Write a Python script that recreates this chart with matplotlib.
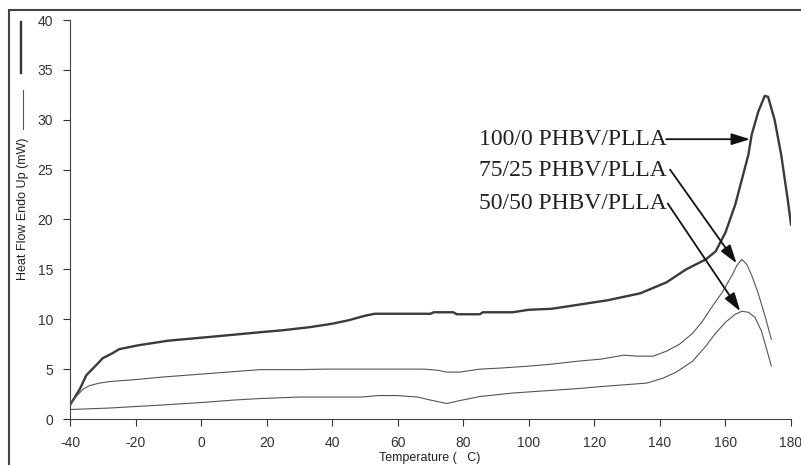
import matplotlib
matplotlib.use("Agg")
import matplotlib.pyplot as plt
from matplotlib import font_manager
from matplotlib.lines import Line2D
from matplotlib.patches import Rectangle

# DSC heating curves
temp_100 = [-40, -37, -35, -32, -30, -27, -25, -22, -19, -15, -10, -5, 0, 5, 10, 18, 25, 33,
            40, 45, 50, 53, 60, 70, 71, 77, 78, 85, 86, 95, 100, 107, 115, 124, 134, 142,
            148, 154, 157, 160, 163, 165, 167, 168, 170, 172, 173, 175, 177, 179, 180]
flow_100 = [1.4, 3.0, 4.4, 5.4, 6.1, 6.6, 7.0, 7.2, 7.4, 7.6, 7.85, 8.0, 8.15, 8.3, 8.45, 8.7,
            8.9, 9.2, 9.55, 9.9, 10.35, 10.55, 10.55, 10.55, 10.7, 10.7, 10.5, 10.5, 10.7,
            10.7, 10.95, 11.05, 11.45, 11.9, 12.6, 13.7, 15.0, 16.0, 16.8, 18.7, 21.5, 24.0,
            26.5, 28.5, 30.8, 32.4, 32.3, 30.0, 26.5, 22.0, 19.5]

temp_75 = [-40, -38, -36, -34, -31, -28, -20, -12, 0, 10, 18, 30, 38, 68, 72, 75, 79, 85, 91,
           100, 107, 115, 122, 129, 133, 138, 142, 146, 150, 153, 156, 159, 162, 163.5, 165,
           166.5, 168, 170, 172, 174]
flow_75 = [1.4, 2.3, 3.0, 3.35, 3.6, 3.75, 3.95, 4.2, 4.5, 4.75, 4.95, 4.95, 5.0, 5.0, 4.9,
           4.7, 4.7, 5.0, 5.1, 5.3, 5.5, 5.8, 6.0, 6.4, 6.3, 6.3, 6.8, 7.5, 8.6, 9.8, 11.3,
           12.7, 14.4, 15.4, 16.0, 15.5, 14.4, 12.6, 10.4, 8.0]

temp_50 = [-40, -28, -20, -12, 0, 10, 18, 30, 49, 54, 60, 66, 70, 75, 79, 85, 95, 106, 115,
           122, 130, 136, 141, 145, 150, 154, 157, 160, 163, 165, 167, 169, 171, 173, 174]
flow_50 = [0.95, 1.1, 1.25, 1.4, 1.65, 1.9, 2.05, 2.2, 2.2, 2.35, 2.35, 2.2, 1.9, 1.55, 1.85,
           2.25, 2.6, 2.85, 3.05, 3.25, 3.45, 3.6, 4.1, 4.7, 5.8, 7.3, 8.6, 9.7, 10.5, 10.8,
           10.7, 10.2, 8.8, 6.5, 5.3]

labels = ["100/0 PHBV/PLLA", "75/25 PHBV/PLLA", "50/50 PHBV/PLLA"]
label_pos = [(84.8, 27.5), (84.8, 24.4), (84.8, 21.1)]
arrow_from = [(141.9, 28.05), (143.1, 25.0), (142.4, 21.6)]
arrow_to = [(167.5, 28.05), (163.4, 15.6), (164.5, 10.8)]

x_ticks = list(range(-40, 181, 20))
y_ticks = list(range(0, 41, 5))

names = {f.name for f in font_manager.fontManager.ttflist}
sans = "Liberation Sans Narrow" if "Liberation Sans Narrow" in names else "Liberation Sans"
plt.rcParams["font.family"] = [sans, "DejaVu Sans"]
plt.rcParams["axes.unicode_minus"] = False

W, H = 801, 465
fig = plt.figure(figsize=(W / 100, H / 100), dpi=100)
ax = fig.add_axes([70 / W, 1 - 419 / H, (791 - 70) / W, (419 - 20) / H])

ax.plot(temp_100, flow_100, color="#3a3a3a", lw=1.7)
ax.plot(temp_75, flow_75, color="#555555", lw=0.8)
ax.plot(temp_50, flow_50, color="#555555", lw=0.8)

for txt, pos, a, b in zip(labels, label_pos, arrow_from, arrow_to):
    ax.text(pos[0], pos[1], txt, family=["Liberation Serif", "DejaVu Serif"], fontsize=17,
            color="#222222", va="baseline", ha="left")
    ax.annotate("", xy=b, xytext=a,
                arrowprops=dict(arrowstyle="-|>,head_length=0.8,head_width=0.25",
                                mutation_scale=14, color="#111111", lw=1.3,
                                shrinkA=0, shrinkB=0))

ax.set_xlim(-40, 180)
ax.set_ylim(0, 40)
ax.set_xticks(x_ticks)
ax.set_yticks(y_ticks)
ax.tick_params(direction="out", length=5, width=0.8, colors="#333333", labelsize=10, pad=7)
for s in ["top", "right"]:
    ax.spines[s].set_visible(False)
for s in ["left", "bottom"]:
    ax.spines[s].set_color("#444444")
    ax.spines[s].set_linewidth(0.8)

fig.text(430 / W, 1 - 458 / H, "Temperature (   C)", fontsize=9, ha="center", va="center",
         color="#222222")
fig.text(23 / W, 1 - 209 / H, "Heat Flow Endo Up (mW)", fontsize=9, rotation=90,
         ha="center", va="center", color="#222222")

# line-weight key next to the y label
fig.add_artist(Line2D([21 / W, 21 / W], [1 - 22 / H, 1 - 73 / H], color="#333333", lw=1.7))
fig.add_artist(Line2D([23 / W, 23 / W], [1 - 90 / H, 1 - 129 / H], color="#555555", lw=0.8))

# outer frame, runs past the right and bottom edges
fig.add_artist(Rectangle((9 / W, -0.1), 1.2, 1.1 - 10 / H, transform=fig.transFigure,
                         fill=False, edgecolor="#444444", lw=1.5))

fig.savefig("out.png", dpi=100)
